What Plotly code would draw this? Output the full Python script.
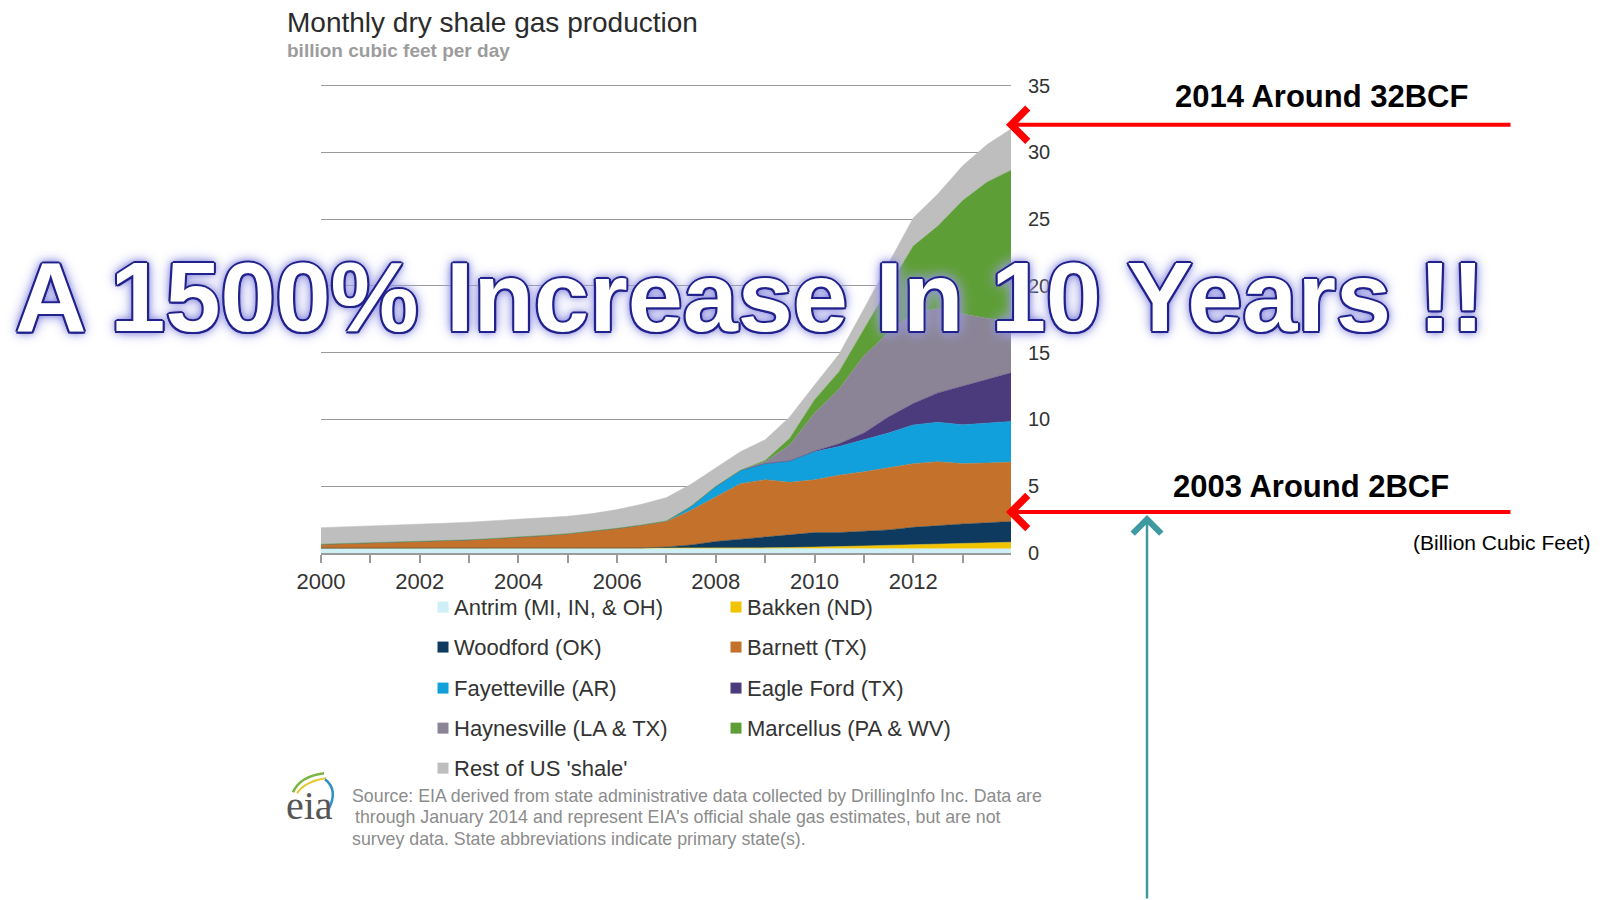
import plotly.graph_objects as go

# ---------------- data (billion cubic feet per day, semi-annual readings) ----------------
dates = ["2000-01-01", "2000-07-01", "2001-01-01", "2001-07-01", "2002-01-01", "2002-07-01",
         "2003-01-01", "2003-07-01", "2004-01-01", "2004-07-01", "2005-01-01", "2005-07-01",
         "2006-01-01", "2006-07-01", "2007-01-01", "2007-07-01", "2008-01-01", "2008-07-01",
         "2009-01-01", "2009-07-01", "2010-01-01", "2010-07-01", "2011-01-01", "2011-07-01",
         "2012-01-01", "2012-07-01", "2013-01-01", "2013-07-01", "2014-01-01"]

antrim = [0.36, 0.36, 0.36, 0.36, 0.36, 0.36, 0.36, 0.36, 0.36, 0.36, 0.35, 0.35, 0.35, 0.35, 0.35,
          0.35, 0.34, 0.34, 0.34, 0.34, 0.33, 0.33, 0.33, 0.33, 0.32, 0.32, 0.32, 0.31, 0.31]
bakken = [0, 0, 0, 0, 0, 0, 0, 0, 0, 0, 0, 0, 0, 0, 0, 0,
          0.02, 0.03, 0.05, 0.07, 0.10, 0.15, 0.20, 0.25, 0.30, 0.35, 0.40, 0.45, 0.50]
woodford = [0, 0, 0, 0, 0, 0, 0, 0, 0, 0, 0, 0, 0, 0.02, 0.10, 0.25,
            0.50, 0.65, 0.80, 0.95, 1.10, 1.05, 1.10, 1.15, 1.30, 1.40, 1.45, 1.50, 1.55]
barnett = [0.30, 0.35, 0.40, 0.45, 0.50, 0.56, 0.63, 0.73, 0.83, 0.95, 1.10, 1.28, 1.50, 1.73, 1.90,
           2.60, 3.33, 4.17, 4.30, 3.93, 3.95, 4.30, 4.45, 4.65, 4.77, 4.77, 4.53, 4.48, 4.45]
fayetteville = [0, 0, 0, 0, 0, 0, 0, 0, 0, 0, 0, 0, 0, 0, 0.05, 0.30,
                0.80, 1.00, 1.20, 1.60, 2.10, 2.15, 2.40, 2.60, 2.90, 2.95, 2.90, 3.00, 3.05]
eagle_ford = [0, 0, 0, 0, 0, 0, 0, 0, 0, 0, 0, 0, 0, 0, 0, 0, 0, 0, 0, 0,
              0.05, 0.20, 0.50, 1.20, 1.60, 2.20, 2.90, 3.25, 3.65]
haynesville = [0, 0, 0, 0, 0, 0, 0, 0, 0, 0, 0, 0, 0, 0, 0, 0, 0, 0,
               0.15, 1.20, 2.85, 4.10, 5.80, 6.30, 6.80, 6.30, 5.40, 4.60, 3.80]
marcellus = [0, 0, 0, 0, 0, 0, 0, 0, 0, 0, 0, 0, 0, 0, 0, 0, 0, 0,
             0.10, 0.50, 1.00, 1.30, 2.00, 3.40, 5.00, 6.20, 8.50, 10.20, 11.40]
rest = [1.24, 1.25, 1.25, 1.28, 1.30, 1.31, 1.32, 1.32, 1.32, 1.32, 1.30, 1.32, 1.40, 1.55, 1.75,
        1.65, 1.40, 1.40, 1.55, 1.60, 1.10, 1.30, 1.50, 1.80, 2.10, 2.40, 2.60, 2.80, 3.10]

names = ["Antrim (MI, IN, & OH)", "Bakken (ND)", "Woodford (OK)", "Barnett (TX)",
         "Fayetteville (AR)", "Eagle Ford (TX)", "Haynesville (LA & TX)", "Marcellus (PA & WV)",
         "Rest of US 'shale'"]
values = [antrim, bakken, woodford, barnett, fayetteville, eagle_ford, haynesville, marcellus, rest]
colors = ["#CDEFF5", "#F2C300", "#0D3A5E", "#C4722B", "#11A0DB", "#4B3B7D", "#8A8496",
          "#5E9E36", "#BEBEBE"]

title_text = "Monthly dry shale gas production"
subtitle_text = "billion cubic feet per day"
source_lines = ["Source: EIA derived from state administrative data collected by DrillingInfo Inc. Data are",
                "through January 2014 and represent EIA's official shale gas estimates, but are not",
                "survey data. State abbreviations indicate primary state(s)."]
overlay_text = "A 1500% Increase In 10 Years !!"
note_top = "2014 Around 32BCF"
note_bottom = "2003 Around 2BCF"
unit_note = "(Billion Cubic Feet)"

# ---------------- layout geometry (pixels, page coordinates) ----------------
FW, FH = 1606, 900
L, R, B = 321, 1011, 553
YMAX = 35.2
T = B - YMAX * (553 - 86) / 35.0


def PX(x):
    return (x - L) / (R - L)


def PY(y):
    return (B - y) / (B - T)


FONT = "Liberation Sans, Arial, sans-serif"

fig = go.Figure()
for name, vals, col in zip(names, values, colors):
    fig.add_trace(go.Scatter(x=dates, y=vals, name=name, stackgroup="one", mode="lines",
                             line=dict(width=0.5, color=col), fillcolor=col,
                             showlegend=False, hoverinfo="skip"))

annotations = []
shapes = []

# title and subtitle
annotations.append(dict(text=title_text, x=PX(285), y=PY(22.5), xref="paper", yref="paper",
                        xanchor="left", yanchor="middle", showarrow=False,
                        font=dict(family=FONT, size=28, color="#2b2b2b")))
annotations.append(dict(text="<b>" + subtitle_text + "</b>", x=PX(285), y=PY(51), xref="paper",
                        yref="paper", xanchor="left", yanchor="middle", showarrow=False,
                        font=dict(family=FONT, size=19, color="#9c9c9c")))

# manual two-column legend
rows_y = [607, 647, 688, 728, 768]
col_marker_x = [443, 736]
for i, (name, col) in enumerate(zip(names, colors)):
    r, c = divmod(i, 2)
    yy = rows_y[r]
    mx = col_marker_x[c]
    shapes.append(dict(type="rect", xref="paper", yref="paper",
                       x0=PX(mx - 5.5), x1=PX(mx + 5.5), y0=PY(yy + 5.5), y1=PY(yy - 5.5),
                       fillcolor=col, line=dict(width=0)))
    annotations.append(dict(text=name, x=PX(mx + 9), y=PY(yy), xref="paper", yref="paper",
                            xanchor="left", yanchor="middle", showarrow=False,
                            font=dict(family=FONT, size=22, color="#333333")))

# source text
src_pos = [(350, 796), (353, 817), (350, 839)]
for line, (sx, sy) in zip(source_lines, src_pos):
    annotations.append(dict(text=line, x=PX(sx), y=PY(sy), xref="paper", yref="paper",
                            xanchor="left", yanchor="middle", showarrow=False,
                            font=dict(family=FONT, size=17.8, color="#8c8c8c")))

# eia logo
annotations.append(dict(text="eia", x=PX(309), y=PY(805), xref="paper", yref="paper",
                        xanchor="center", yanchor="middle", showarrow=False,
                        font=dict(family="Liberation Serif, serif", size=40, color="#555555")))


def pth(points):
    (x0, y0), (cx, cy), (x1, y1) = points
    return "M {} {} Q {} {} {} {}".format(PX(x0), PY(y0), PX(cx), PY(cy), PX(x1), PY(y1))


shapes.append(dict(type="path", xref="paper", yref="paper",
                   path=pth([(293, 792), (300, 776), (324, 773)]), line=dict(color="#7DB544", width=2.5)))
shapes.append(dict(type="path", xref="paper", yref="paper",
                   path=pth([(297, 793), (305, 781), (326, 778)]), line=dict(color="#E8C72C", width=2)))
shapes.append(dict(type="path", xref="paper", yref="paper",
                   path=pth([(325, 779), (339, 790), (328, 810)]), line=dict(color="#2F8FC6", width=2.5)))

# notes on the right
annotations.append(dict(text="<b>" + note_top + "</b>", x=PX(1321), y=PY(97), xref="paper",
                        yref="paper", xanchor="center", yanchor="middle", showarrow=False,
                        font=dict(family=FONT, size=31, color="#000000")))
annotations.append(dict(text="<b>" + note_bottom + "</b>", x=PX(1311), y=PY(487), xref="paper",
                        yref="paper", xanchor="center", yanchor="middle", showarrow=False,
                        font=dict(family=FONT, size=31, color="#000000")))
annotations.append(dict(text=unit_note, x=PX(1592), y=PY(543), xref="paper", yref="paper",
                        xanchor="right", yanchor="middle", showarrow=False,
                        font=dict(family=FONT, size=21, color="#000000")))

# arrows
for tip_y in (125, 512):
    annotations.append(dict(text="", x=PX(1006), y=PY(tip_y), xref="paper", yref="paper",
                            ax=1512 - 1006, ay=0, showarrow=True, arrowhead=4, arrowsize=1.6,
                            arrowwidth=4, arrowcolor="#FF0000", standoff=0))
annotations.append(dict(text="", x=PX(1147), y=PY(515), xref="paper", yref="paper",
                        ax=0, ay=900 - 515, showarrow=True, arrowhead=4, arrowsize=2.2,
                        arrowwidth=2.5, arrowcolor="#3E9AA0", standoff=0))

# big overlay headline
nv = "#22228C"
shadow = ", ".join(["{}px {}px 0 {}".format(dx, dy, nv) for dx, dy in
                    [(-1.5, -1.5), (1.5, -1.5), (-1.5, 1.5), (1.5, 1.5),
                     (0, -2.2), (0, 2.2), (-2.2, 0), (2.2, 0)]]
                   + ["0 0 7px #7070D0", "0 0 12px #9A9AE4", "0 0 16px #B8B8EE"])
annotations.append(dict(text="<b>" + overlay_text + "</b>", x=PX(749), y=PY(297), xref="paper",
                        yref="paper", xanchor="center", yanchor="middle", showarrow=False,
                        font=dict(family=FONT, size=99, color="#FFFFFF", shadow=shadow)))

fig.update_layout(
    width=FW, height=FH, autosize=False,
    margin=dict(l=L, r=FW - R, t=T, b=FH - B, pad=0),
    paper_bgcolor="white", plot_bgcolor="white",
    showlegend=False,
    annotations=annotations, shapes=shapes,
    xaxis=dict(type="date", range=["2000-01-01", "2013-12-25"], tick0="2000-01-01", dtick="M12",
               ticklabelstep=2, tickformat="%Y", ticks="outside", ticklen=8, tickwidth=1.5,
               tickcolor="#9a9a9a", showline=True, linecolor="#9a9a9a", linewidth=1.5,
               showgrid=False, zeroline=False,
               tickfont=dict(family=FONT, size=22, color="#333333")),
    yaxis=dict(range=[0, YMAX], dtick=5, tick0=0, side="right", showgrid=True, gridcolor="#9a9a9a",
               gridwidth=1.3, zeroline=False, showline=False, ticks="", ticklabelstandoff=16,
               tickfont=dict(family=FONT, size=20, color="#333333")),
)

# remove the default page margin so the figure sits at the window's top-left corner
fig.write_html("out.html", config={"displayModeBar": False},
               post_script="document.body.style.margin='0px';document.body.style.overflow='hidden';")
